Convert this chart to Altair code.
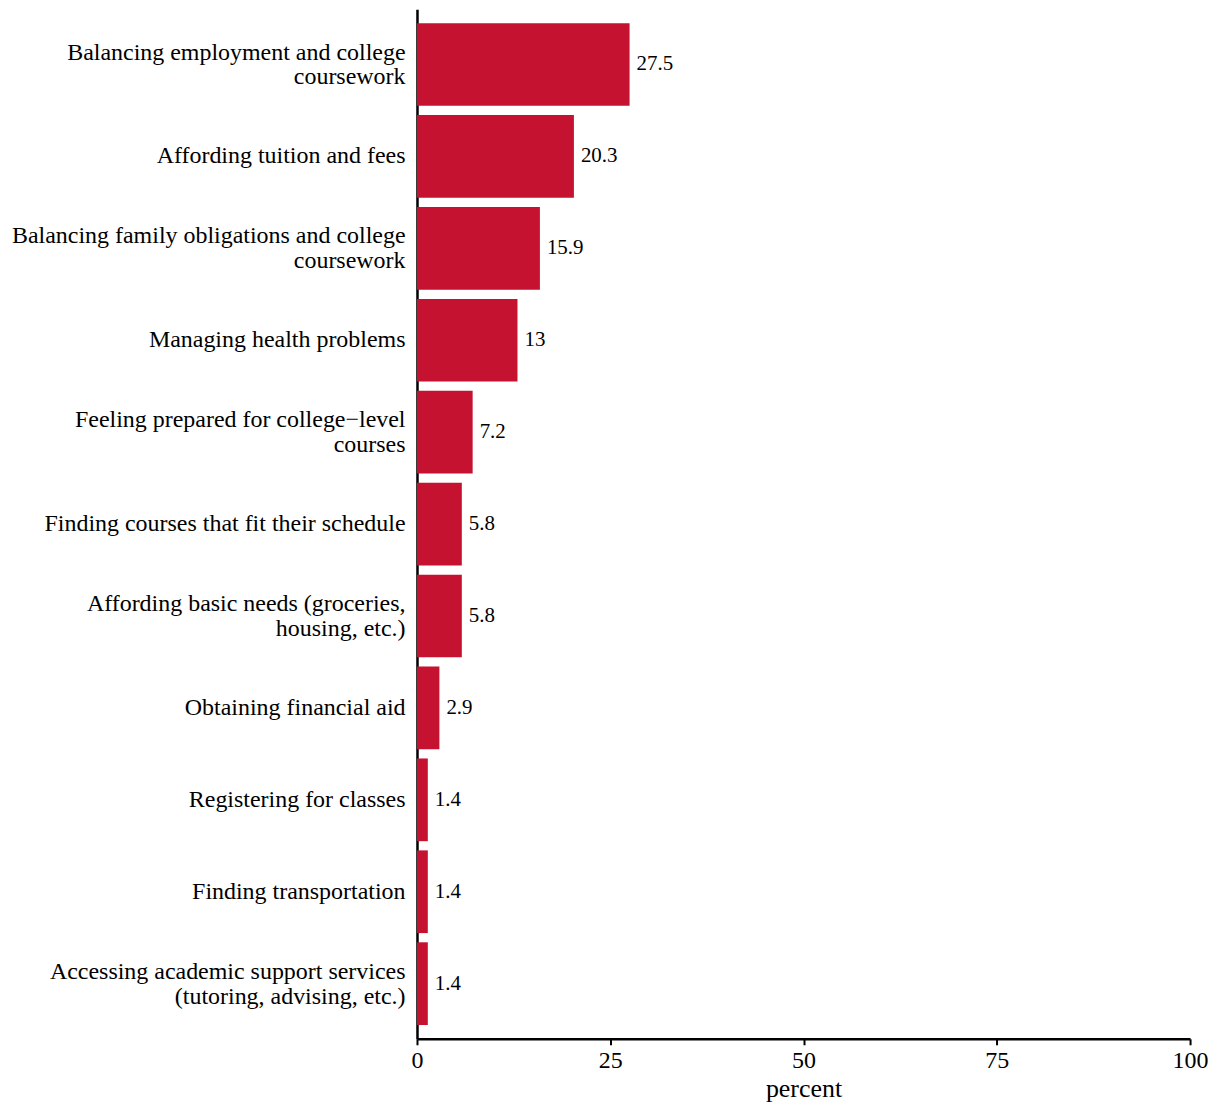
import altair as alt
import pandas as pd

categories = [
    "Balancing employment and college|coursework",
    "Affording tuition and fees",
    "Balancing family obligations and college|coursework",
    "Managing health problems",
    "Feeling prepared for college\u2212level|courses",
    "Finding courses that fit their schedule",
    "Affording basic needs (groceries,|housing, etc.)",
    "Obtaining financial aid",
    "Registering for classes",
    "Finding transportation",
    "Accessing academic support services|(tutoring, advising, etc.)",
]
values = [27.5, 20.3, 15.9, 13, 7.2, 5.8, 5.8, 2.9, 1.4, 1.4, 1.4]
value_labels = ["27.5", "20.3", "15.9", "13", "7.2", "5.8", "5.8", "2.9", "1.4", "1.4", "1.4"]

df = pd.DataFrame({"cat": categories, "percent": values, "lab": value_labels})

FONT = "Liberation Serif"
COLOR = "#C41230"

y = alt.Y(
    "cat:N",
    sort=categories,
    title=None,
    scale=alt.Scale(paddingInner=0.1, paddingOuter=0.15),
    axis=alt.Axis(
        labelExpr="split(datum.label, '|')",
        labelFont=FONT,
        labelFontSize=24,
        labelColor="black",
        labelLimit=600,
        labelPadding=12,
        labelOffset={
            "condition": {"test": "indexof(datum.label, '|') >= 0", "value": -12},
            "value": 0,
        },
        ticks=False,
        grid=False,
        domainColor="black",
        domainWidth=2.5,
        labelLineHeight=25,
    ),
)

x = alt.X(
    "percent:Q",
    title="percent",
    scale=alt.Scale(domain=[0, 100], nice=False),
    axis=alt.Axis(
        values=[0, 25, 50, 75, 100],
        grid=False,
        labelFont=FONT,
        labelFontSize=24,
        labelColor="black",
        titleFont=FONT,
        titleFontSize=26,
        titleFontWeight="normal",
        titleColor="black",
        domainColor="black",
        domainWidth=2.5,
        tickColor="black",
        tickWidth=2,
        tickSize=6,
        labelPadding=4,
        titlePadding=3,
        labelFlush=False,
    ),
)

bars = alt.Chart(df).mark_bar(color=COLOR).encode(x=x, y=y)
text = alt.Chart(df).mark_text(
    align="left", baseline="middle", dx=7, font=FONT, fontSize=21, color="black"
).encode(
    x=alt.X("percent:Q"),
    y=alt.Y("cat:N", sort=categories),
    text="lab:N",
)

chart = (
    alt.layer(bars, text)
    .properties(
        width=775,
        height=1032,
        background="white",
        padding={"top": 0, "left": 3, "right": 5, "bottom": 0},
    )
    .configure_view(strokeWidth=0, stroke="transparent")
    .configure_axis(grid=False)
)

chart.save("out.html", embed_options={"renderer": "svg", "actions": False})
